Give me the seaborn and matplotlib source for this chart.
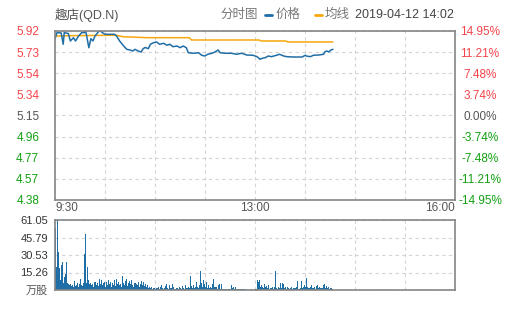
import matplotlib
matplotlib.use("Agg")
import matplotlib.pyplot as plt
from matplotlib.lines import Line2D
import numpy as np
import seaborn as sns

# ---------------- data ----------------
price_min = [0, 2, 6, 8, 9, 13, 15, 18, 20, 23, 26, 29, 30, 33, 35, 37, 39, 43, 45, 47, 49,
             58, 60, 63, 67, 70, 73, 76, 78, 81, 84, 86, 88, 91, 93, 96, 99, 102, 106, 109,
             112, 115, 119, 122, 125, 128, 130, 135, 140, 143, 146, 149, 153, 156, 159, 161,
             166, 172, 177, 182, 187, 193, 197, 200, 202, 205, 208, 211, 216, 219, 223, 226,
             232, 241, 244, 245, 249, 252, 257, 262, 263, 265, 267, 269, 271]
price_val = [5.850, 5.905, 5.902, 5.799, 5.905, 5.897, 5.829, 5.859, 5.829, 5.874, 5.905,
             5.905, 5.920, 5.768, 5.850, 5.829, 5.874, 5.920, 5.915, 5.899, 5.890, 5.890,
             5.874, 5.829, 5.783, 5.753, 5.747, 5.738, 5.753, 5.738, 5.729, 5.759, 5.770,
             5.759, 5.799, 5.813, 5.820, 5.799, 5.808, 5.790, 5.799, 5.777, 5.783, 5.768,
             5.783, 5.768, 5.722, 5.717, 5.722, 5.699, 5.692, 5.708, 5.717, 5.729, 5.747,
             5.722, 5.717, 5.717, 5.708, 5.717, 5.701, 5.699, 5.686, 5.662, 5.671, 5.677,
             5.692, 5.686, 5.699, 5.708, 5.692, 5.686, 5.683, 5.683, 5.699, 5.692, 5.686,
             5.699, 5.701, 5.708, 5.729, 5.738, 5.729, 5.747, 5.753]

avg_min = [0, 20, 60, 66, 90, 131, 133, 199, 201, 225, 227, 271]
avg_val = [5.874, 5.878, 5.881, 5.868, 5.859, 5.859, 5.838, 5.838, 5.829, 5.829, 5.820, 5.820]

vol = [53.8, 20.0, 61.05, 33.4, 18.9, 9.0, 21.8, 24.7, 6.0, 11.6,
       14.0, 24.1, 6.5, 5.0, 4.0, 5.5, 3.5, 4.5, 3.0, 8.0,
       3.5, 4.0, 6.0, 2.5, 5.0, 9.6, 4.0, 3.5, 6.0, 31.4,
       48.8, 6.0, 20.3, 8.7, 5.0, 6.0, 4.0, 5.5, 3.0, 7.0,
       4.5, 6.0, 3.5, 10.0, 5.0, 8.7, 4.0, 6.0, 7.0, 3.0,
       7.0, 4.0, 8.5, 5.5, 7.0, 2.5, 6.0, 4.0, 9.0, 3.5,
       9.6, 5.0, 7.0, 4.0, 5.5, 3.0, 12.5, 6.0, 4.5, 8.0,
       10.0, 3.5, 6.0, 8.0, 5.0, 9.0, 4.0, 3.0, 6.0, 5.0,
       4.0, 7.0, 3.0, 5.5, 8.0, 4.0, 7.0, 3.5, 5.0, 2.5,
       4.0, 2.0, 3.0, 1.5, 2.5, 1.0, 2.0, 1.5, 1.0, 2.0,
       1.5, 3.0, 1.0, 2.5, 4.0, 2.0, 1.0, 1.5, 3.5, 5.0,
       2.0, 1.0, 4.5, 2.0, 1.5, 5.0, 3.0, 1.0, 2.0, 1.5,
       1.0, 2.5, 1.5, 1.0, 3.5, 2.0, 1.0, 4.0, 1.5, 2.0,
       3.0, 2.0, 12.5, 3.5, 2.0, 4.0, 1.5, 3.0, 7.3, 2.5,
       1.5, 4.0, 16.6, 6.0, 2.5, 8.7, 5.0, 3.0, 6.7, 2.0,
       4.0, 1.5, 3.0, 2.0, 5.0, 9.6, 2.5, 3.0, 1.0, 4.0,
       5.0, 1.0, 5.0, 0.8, 0.8, 1.0, 0.5, 0.8, 1.0, 0.5,
       0.8, 1.0, 4.4, 1.5, 2.3, 1.0, 2.3, 0.8, 1.2, 0.8,
       0.8, 0.5, 0.8, 0.6, 0.5, 0.8, 0.5, 0.3, 0.3, 0.3,
       0.3, 0.3, 0.5, 0.3, 0.3, 0.5, 1.0, 8.7, 7.3, 9.0,
       3.0, 4.4, 3.0, 2.0, 5.0, 2.5, 3.5, 1.5, 4.0, 1.0,
       2.0, 1.5, 3.0, 1.0, 2.5, 16.6, 2.0, 1.0, 2.5, 1.5,
       6.4, 2.0, 6.4, 5.0, 1.5, 3.0, 1.0, 2.5, 1.5, 1.0,
       2.0, 3.0, 1.0, 1.5, 2.0, 3.0, 7.8, 1.0, 0.8, 2.0,
       8.2, 1.5, 3.0, 4.0, 2.5, 10.2, 3.0, 2.0, 1.5, 2.5,
       4.0, 2.0, 1.5, 2.5, 1.0, 3.5, 4.4, 2.0, 3.0, 1.5,
       2.0, 1.5, 4.0, 5.0, 2.0, 3.5, 1.5, 2.5, 1.0, 2.0,
       1.5, 1.0]
vol_min = list(range(len(vol)))

price_tick_labels = ["5.92", "5.73", "5.54", "5.34", "5.15", "4.96", "4.77", "4.57", "4.38"]
pct_tick_labels = ["14.95%", "11.21%", "7.48%", "3.74%", "0.00%",
                   "-3.74%", "-7.48%", "-11.21%", "-14.95%"]
vol_tick_labels = ["万股", "15.26", "30.53", "45.79", "61.05"]
time_labels = ["9:30", "13:00", "16:00"]
prev_close = 5.15
limit_pct = 0.1495
vol_max = 61.05
session_minutes = 390

title_name = "趣店(QD.N)"
title_mode = "分时图"
legend_price = "价格"
legend_avg = "均线"
title_time = "2019-04-12 14:02"

# ---------------- style ----------------
sns.set_style("white")
plt.rcParams['font.family'] = ['Liberation Sans', 'Noto Sans CJK SC', 'DejaVu Sans']

BLUE = "#1f6ea6"
ORANGE = "#f7a70d"
RED = "#f5444b"
GREEN = "#12a012"
GRAY = "#555555"
SPINE = "#858585"
GRID = "#d4d4d4"

W, H = 505, 310
fig = plt.figure(figsize=(W / 100, H / 100), dpi=100)
ax = fig.add_axes([55 / W, 1 - 200 / H, 400 / W, 169 / H])
axv = fig.add_axes([55 / W, 1 - 290 / H, 400 / W, 70 / H])

top = prev_close * (1 + limit_pct)
bot = prev_close * (1 - limit_pct)
yt = np.linspace(top, bot, len(price_tick_labels))
xt = np.linspace(0, session_minutes, 9)

# ---------------- main price panel ----------------
sns.lineplot(x=avg_min, y=avg_val, ax=ax, color=ORANGE, linewidth=1.1, estimator=None)
sns.lineplot(x=price_min, y=price_val, ax=ax, color=BLUE, linewidth=1.1, estimator=None)
ax.set_xlim(0, session_minutes)
ax.set_ylim(bot, top)
ax.set_yticks(yt)
ax.set_yticklabels(price_tick_labels, fontsize=8.5)
ax.set_xticks(xt)
xl = [""] * len(xt)
xl[0], xl[4], xl[-1] = time_labels
ax.set_xticklabels(xl, fontsize=8.5, color=GRAY)
ax.tick_params(axis='both', length=0)
ax.tick_params(axis='y', pad=11.3)
ax.tick_params(axis='x', pad=1.5)
xlabs = ax.get_xticklabels()
xlabs[0].set_ha('left')
xlabs[-1].set_ha('right')
n = len(price_tick_labels)
for i, lab in enumerate(ax.get_yticklabels()):
    lab.set_color(RED if i < n // 2 else (GRAY if i == n // 2 else GREEN))
ax.grid(True, color=GRID, linestyle=(0, (3, 3)), linewidth=0.8)
ax.set_xlabel("")
ax.set_ylabel("")
for s in ax.spines.values():
    s.set_color(SPINE)
    s.set_linewidth(1.2)

ax2 = ax.twinx()
ax2.set_ylim(bot, top)
ax2.set_yticks(yt)
ax2.set_yticklabels(pct_tick_labels, fontsize=8.5)
ax2.tick_params(axis='y', length=0, pad=18)
ax2.grid(False)
for i, lab in enumerate(ax2.get_yticklabels()):
    lab.set_ha('center')
    lab.set_color(RED if i < n // 2 else (GRAY if i == n // 2 else GREEN))
for s in ax2.spines.values():
    s.set_visible(False)

# ---------------- volume panel ----------------
sns.histplot(x=vol_min, weights=vol, discrete=True, shrink=1.0, ax=axv,
             color=BLUE, alpha=1.0, linewidth=0, element="bars", antialiased=False)
axv.set_xlim(0, session_minutes)
axv.set_ylim(0, vol_max)
vt = np.linspace(0, vol_max, len(vol_tick_labels))
axv.set_yticks(vt)
axv.set_yticklabels(vol_tick_labels, fontsize=8)
axv.get_yticklabels()[0].set_color(GRAY)
for lab in axv.get_yticklabels()[1:]:
    lab.set_color("#333333")
axv.set_xticks(xt)
axv.set_xticklabels([])
axv.tick_params(axis='both', length=0)
axv.tick_params(axis='y', pad=5)
axv.grid(True, color=GRID, linestyle=(0, (3, 3)), linewidth=0.8)
axv.set_xlabel("")
axv.set_ylabel("")
for s in axv.spines.values():
    s.set_color(SPINE)
    s.set_linewidth(1.2)

# ---------------- header ----------------
yh = 1 - 15 / H
fig.text(55 / W, yh, title_name, fontsize=9, color=GRAY, va='center', ha='left')
fig.text(220 / W, yh, title_mode, fontsize=9, color="#777777", va='center', ha='left')
fig.add_artist(Line2D([265 / W, 272 / W], [yh, yh], color=BLUE, linewidth=2))
fig.text(276 / W, yh, legend_price, fontsize=9, color="#777777", va='center', ha='left')
fig.add_artist(Line2D([315 / W, 322 / W], [yh, yh], color=ORANGE, linewidth=2))
fig.text(325 / W, yh, legend_avg, fontsize=9, color="#777777", va='center', ha='left')
fig.text(454 / W, yh, title_time, fontsize=9, color="#444444", va='center', ha='right')

fig.savefig("out.png", dpi=100)
